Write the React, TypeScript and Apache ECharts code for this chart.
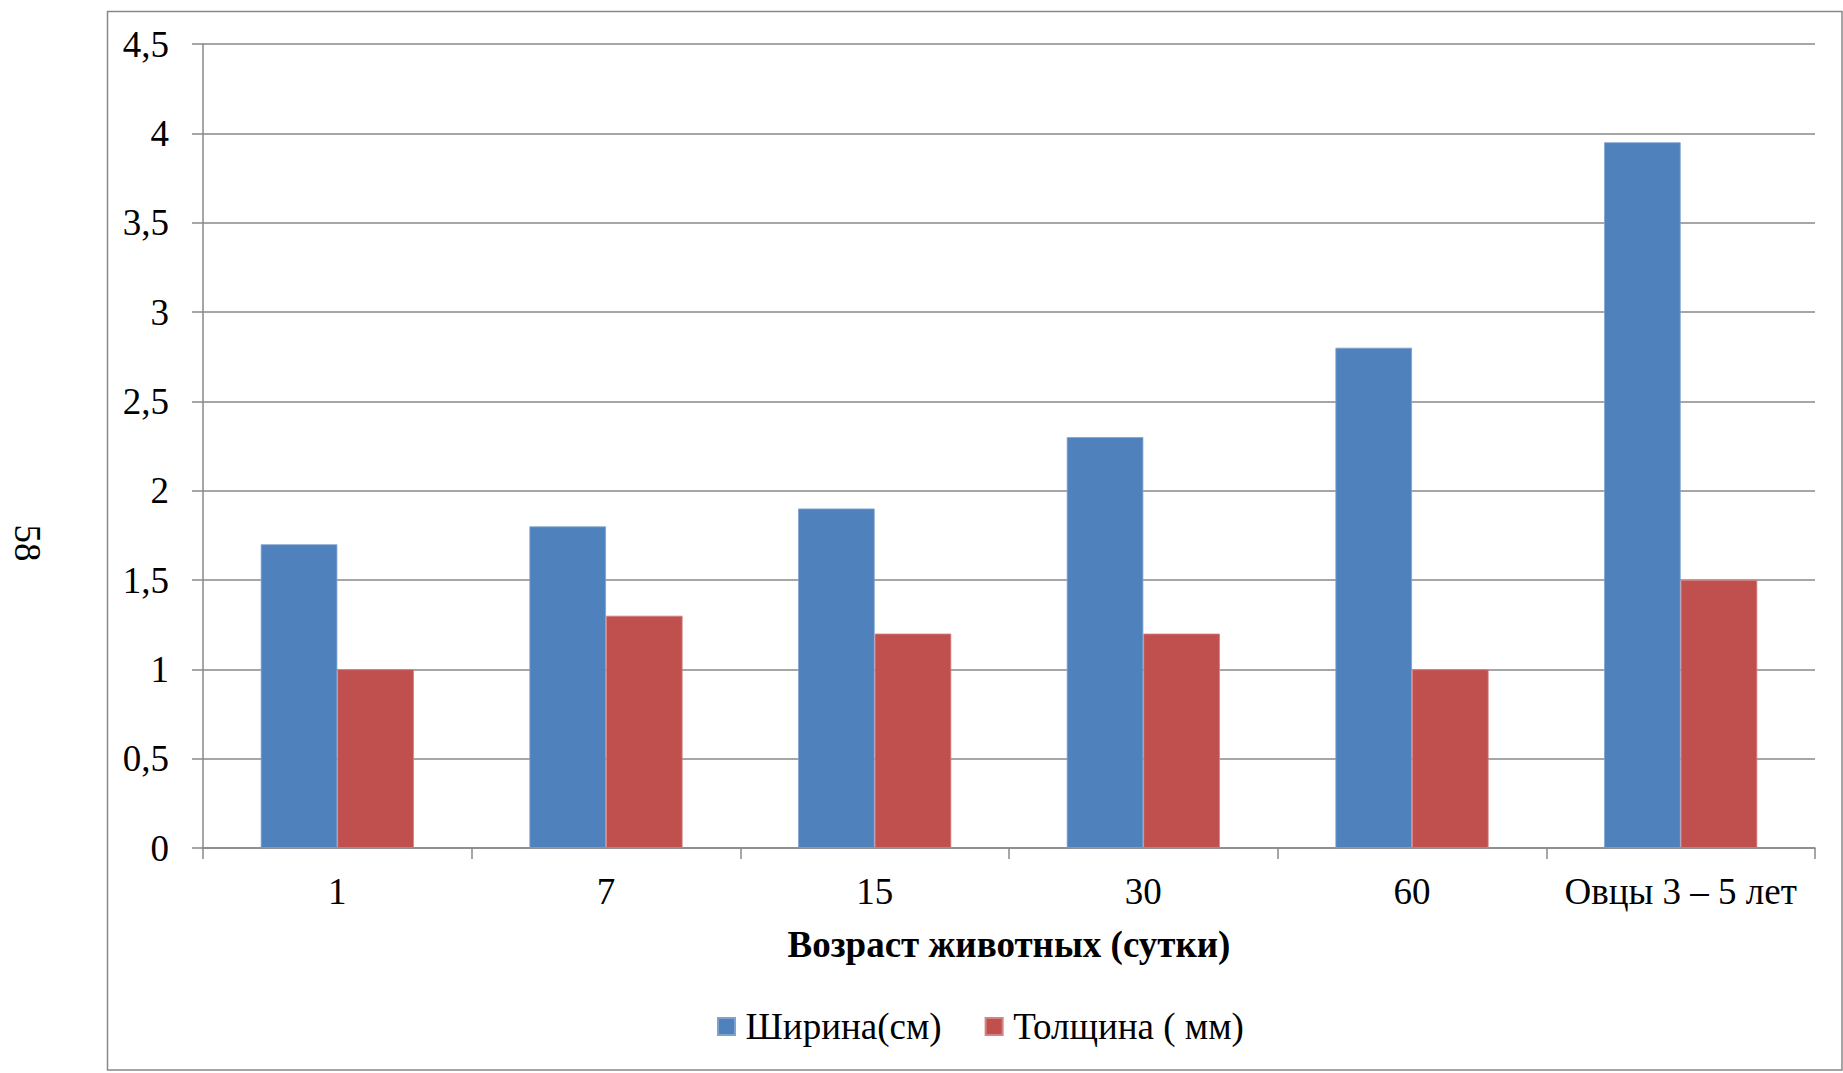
import React, { useEffect, useRef } from "react";
import * as echarts from "echarts";

const categories = ["1", "7", "15", "30", "60", "Овцы 3 – 5 лет"];
const widthSeries = [1.7, 1.8, 1.9, 2.3, 2.8, 3.95];
const thicknessSeries = [1.0, 1.3, 1.2, 1.2, 1.0, 1.5];
const seriesNames = ["Ширина(см)", "Толщина ( мм)"];
const xAxisTitle = "Возраст животных (сутки)";
const pageNumber = "58";

const FONT = "'Liberation Serif', 'Times New Roman', serif";
const GRAY = "#888888";
const FS = 37;

export default function App() {
  const ref = useRef<HTMLDivElement>(null);
  useEffect(() => {
    if (!ref.current) return;
    const chart = echarts.init(ref.current, undefined, { renderer: "svg" });
    chart.setOption({
      animation: false,
      backgroundColor: "#ffffff",
      textStyle: { fontFamily: FONT, color: "#000" },
      grid: { left: 203, right: 28, top: 44, bottom: 225, containLabel: false },
      legend: {
        data: seriesNames,
        left: 712,
        top: 1003,
        icon: "rect",
        itemWidth: 17,
        itemHeight: 17,
        itemGap: 43,
        textStyle: { fontFamily: FONT, fontSize: FS, color: "#000", padding: [0, 0, 0, 5.5] },
      },
      xAxis: {
        type: "category",
        data: categories,
        name: xAxisTitle,
        nameLocation: "middle",
        nameGap: 78,
        nameTextStyle: { fontFamily: FONT, fontSize: FS, fontWeight: "bold", color: "#000" },
        axisLine: { lineStyle: { color: GRAY, width: 1.5 } },
        axisTick: { show: true, length: 11, lineStyle: { color: GRAY, width: 1.5 } },
        axisLabel: { fontFamily: FONT, fontSize: FS, color: "#000", margin: 25, interval: 0 },
      },
      yAxis: {
        type: "value",
        min: 0,
        max: 4.5,
        interval: 0.5,
        axisLine: { show: true, lineStyle: { color: GRAY, width: 1.5 } },
        axisTick: { show: true, length: 11, lineStyle: { color: GRAY, width: 1.5 } },
        splitLine: { show: true, lineStyle: { color: GRAY, width: 1.5 } },
        axisLabel: {
          fontFamily: FONT,
          fontSize: FS,
          color: "#000",
          margin: 34,
          formatter: (v: number) => String(v).replace(".", ","),
        },
      },
      series: [
        {
          name: seriesNames[0],
          type: "bar",
          data: widthSeries,
          barGap: "0%",
          barCategoryGap: "43%",
          itemStyle: { color: "#4F81BD", borderColor: "#7FA2CF", borderWidth: 0.8 },
        },
        {
          name: seriesNames[1],
          type: "bar",
          data: thicknessSeries,
          itemStyle: { color: "#C0504D", borderColor: "#D58280", borderWidth: 0.8 },
        },
      ],
      graphic: [
        {
          type: "rect",
          shape: { x: 107.5, y: 11.5, width: 1734.5, height: 1058.5 },
          style: { fill: "none", stroke: GRAY, lineWidth: 1.5 },
          silent: true,
        },
        {
          type: "text",
          x: 27,
          y: 543,
          rotation: -Math.PI / 2,
          style: {
            text: pageNumber,
            fontFamily: FONT,
            fontSize: FS,
            fill: "#000",
            align: "center",
            verticalAlign: "middle",
          },
        },
      ],
    });
    return () => chart.dispose();
  }, []);
  return (
    <div
      ref={ref}
      style={{ position: "fixed", left: 0, top: 0, width: 1843, height: 1073, background: "#fff" }}
    />
  );
}
